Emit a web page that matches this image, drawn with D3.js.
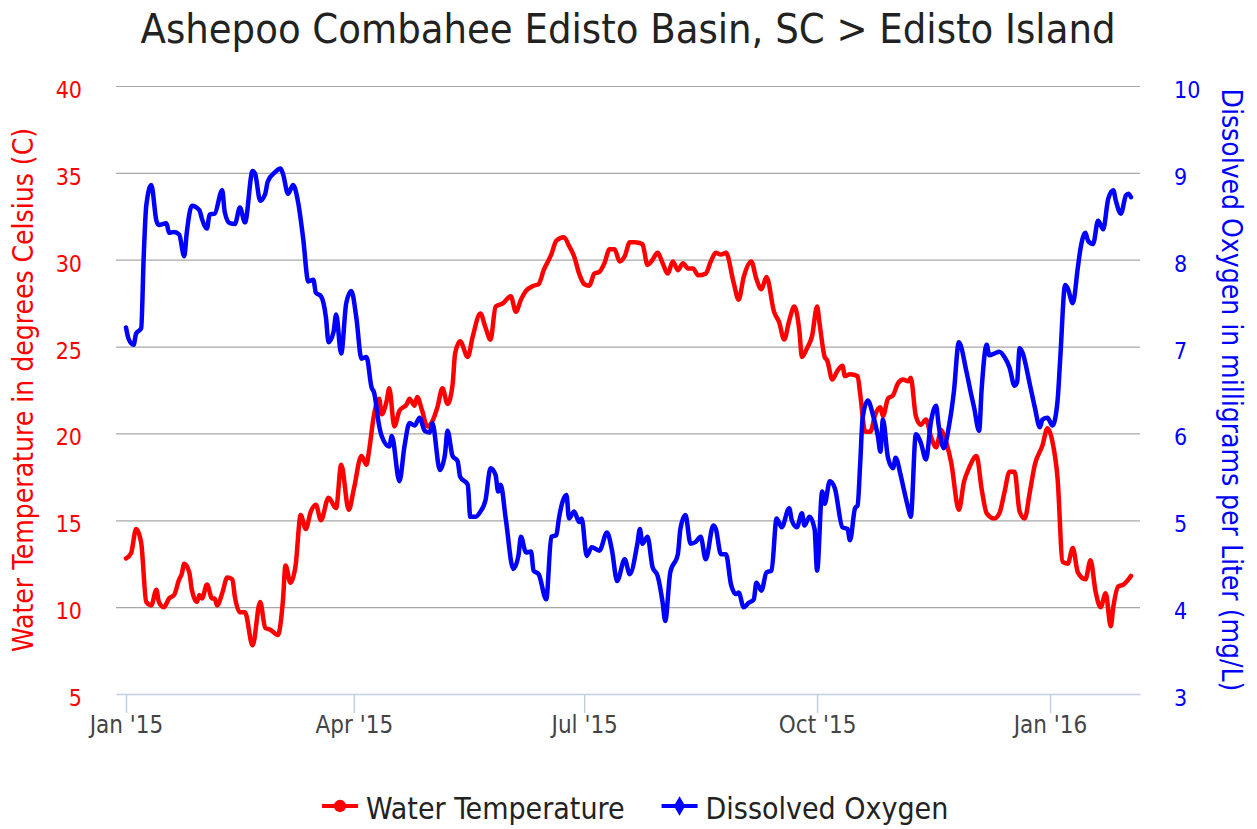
<!DOCTYPE html>
<html>
<head>
<meta charset="utf-8">
<script src="https://cdn.jsdelivr.net/npm/d3@7"></script>
<style>
  html, body { margin: 0; padding: 0; background: #fff; }
  svg { display: block; }
  text { font-family: "DejaVu Sans Condensed", "DejaVu Sans", sans-serif; font-stretch: semi-condensed; }
</style>
</head>
<body>
<svg id="chart" width="1257" height="829"></svg>
<script>
// series start: day 0 = 1 Jan 2015, values as [day, value]
const startDate = new Date(2015, 0, 1);

const waterTemp = [
  [0,12.8],[2,13.1],[4,14.5],[6,13.7],[8,10.3],[10,10.1],[12,11.0],[13,10.3],[15,10.0],[17,10.5],
  [19,10.7],[21,11.6],[22,11.9],[23,12.5],[25,12.0],[26,11.0],[28,10.3],[29,10.7],[30,10.5],[32,11.3],
  [34,10.5],[35,10.5],[36,10.1],[38,10.8],[40,11.7],[42,11.6],[43,10.6],[45,9.7],[47,9.7],[50,7.8],
  [53,10.3],[55,8.8],[57,8.7],[60,8.4],[62,10.4],[63,12.4],[65,11.4],[67,12.4],[69,15.3],[71,14.5],
  [73,15.5],[75,15.9],[77,15.0],[80,16.3],[83,15.7],[85,18.2],[88,15.6],[90,16.8],[93,18.7],[95,18.2],
  [96,19.0],[98,21.1],[100,22.0],[101,21.1],[103,21.9],[104,22.6],[106,20.4],[108,21.3],[111,21.7],[112,22.0],
  [114,21.6],[115,22.1],[117,21.3],[119,20.4],[121,20.7],[123,21.5],[125,22.6],[127,21.7],[129,22.8],[130,24.6],
  [132,25.3],[135,24.4],[137,25.6],[140,26.9],[142,26.1],[144,25.4],[146,27.3],[149,27.5],[152,27.9],[154,27.0],
  [156,27.7],[158,28.2],[161,28.5],[163,28.6],[165,29.4],[168,30.3],[170,31.1],[173,31.3],[175,30.8],[177,30.2],
  [179,29.2],[181,28.6],[183,28.5],[185,29.2],[187,29.3],[189,29.8],[191,30.6],[193,30.6],[195,29.9],[197,30.2],
  [199,31.0],[201,31.0],[204,30.9],[206,29.7],[208,30.0],[210,30.4],[212,29.8],[214,29.2],[216,29.9],[218,29.4],
  [220,29.8],[222,29.5],[224,29.5],[226,29.1],[229,29.2],[231,29.9],[233,30.4],[235,30.3],[237,30.4],[240,28.7],
  [242,27.7],[244,29.0],[247,29.9],[249,28.9],[251,28.3],[253,29.0],[256,27.0],[258,26.4],[260,25.4],[262,26.5],
  [264,27.3],[266,25.9],[267,24.4],[269,24.9],[271,25.6],[273,27.3],[274,26.3],[276,24.4],[277,24.2],[279,23.1],
  [281,23.6],[283,23.9],[284,23.3],[286,23.4],[289,23.3],[290,22.3],[292,20.1],[294,20.1],[296,21.1],[298,21.5],
  [299,21.0],[301,22.0],[303,22.2],[305,22.9],[307,23.1],[309,23.0],[310,23.2],[312,21.0],[314,20.5],[316,20.8],
  [318,19.8],[320,19.2],[322,20.2],[323,19.9],[326,18.3],[329,15.6],[331,17.2],[333,18.0],[336,18.7],[338,16.8],
  [340,15.4],[343,15.1],[345,15.4],[347,16.6],[349,17.8],[351,17.8],[353,15.5],[355,15.1],[357,16.6],[359,18.2],
  [362,19.3],[364,20.3],[366,19.5],[368,17.4],[370,12.6],[372,12.5],[374,13.4],[376,12.0],[379,11.6],[381,12.7],
  [383,10.9],[385,10.0],[387,10.8],[389,8.9],[390,10.0],[392,11.2],[394,11.3],[396,11.6],[397,11.8]
];

const dissolvedOxygen = [
  [0,7.22],[1,7.09],[3,7.02],[4,7.15],[6,7.21],[7,8.04],[8,8.62],[10,8.86],[12,8.45],[13,8.40],
  [16,8.42],[17,8.31],[19,8.32],[21,8.29],[23,8.04],[24,8.31],[26,8.62],[29,8.57],[30,8.47],[32,8.36],
  [33,8.52],[35,8.53],[38,8.80],[39,8.55],[41,8.42],[43,8.41],[45,8.60],[47,8.43],[50,9.02],[51,8.99],
  [53,8.68],[55,8.76],[56,8.90],[59,9.01],[61,9.05],[62,8.99],[64,8.76],[66,8.86],[68,8.66],[70,8.24],
  [72,7.75],[74,7.77],[75,7.62],[77,7.58],[79,7.33],[80,7.05],[82,7.17],[83,7.37],[85,6.92],[87,7.50],
  [89,7.64],[91,7.33],[93,6.86],[95,6.88],[97,6.53],[98,6.47],[100,6.09],[101,5.97],[104,5.85],[105,5.97],
  [108,5.45],[110,5.85],[112,6.12],[114,6.09],[116,6.18],[118,6.03],[120,6.01],[121,6.12],[124,5.58],[126,5.76],
  [127,6.03],[129,5.74],[131,5.68],[132,5.50],[135,5.41],[136,5.04],[138,5.04],[140,5.10],[142,5.23],[144,5.60],
  [146,5.52],[147,5.33],[148,5.41],[150,5.02],[153,4.44],[155,4.59],[156,4.81],[158,4.63],[160,4.64],[161,4.42],
  [163,4.38],[166,4.09],[168,4.81],[170,4.83],[171,5.02],[174,5.29],[175,5.02],[177,5.10],[179,4.98],[180,5.02],
  [182,4.59],[184,4.69],[187,4.65],[190,4.86],[192,4.65],[194,4.30],[197,4.55],[199,4.38],[202,4.73],[203,4.90],
  [204,4.73],[206,4.81],[208,4.46],[210,4.36],[212,4.05],[213,3.84],[215,4.40],[218,4.61],[219,4.90],[221,5.06],
  [223,4.73],[225,4.75],[227,4.81],[229,4.55],[232,4.94],[233,4.90],[235,4.61],[237,4.61],[239,4.26],[241,4.15],
  [242,4.17],[244,4.00],[246,4.05],[248,4.09],[249,4.28],[251,4.19],[253,4.40],[255,4.42],[257,5.02],[259,4.92],
  [262,5.14],[263,5.00],[265,4.92],[267,5.08],[268,4.94],[270,5.04],[272,4.90],[273,4.42],[275,5.33],[276,5.19],
  [278,5.45],[280,5.37],[283,4.92],[285,4.90],[286,4.77],[288,5.14],[289,5.17],[290,5.64],[291,6.18],[293,6.38],
  [295,6.22],[297,5.97],[298,5.79],[299,6.16],[301,5.72],[303,5.60],[304,5.72],[306,5.52],[307,5.39],[309,5.14],
  [310,5.04],[312,5.99],[314,5.89],[316,5.70],[318,6.14],[320,6.32],[321,6.10],[323,5.83],[325,6.07],[327,6.47],
  [329,7.05],[332,6.71],[334,6.43],[335,6.30],[337,6.03],[338,6.51],[340,7.02],[341,6.90],[343,6.92],[345,6.94],
  [347,6.88],[349,6.76],[351,6.55],[352,6.59],[353,6.98],[354,6.94],[357,6.57],[359,6.30],[361,6.07],[362,6.16],
  [364,6.18],[366,6.09],[368,6.38],[369,6.84],[371,7.71],[372,7.67],[374,7.50],[376,7.91],[377,8.12],[379,8.31],
  [380,8.22],[382,8.18],[384,8.45],[386,8.35],[388,8.70],[390,8.80],[391,8.68],[393,8.53],[395,8.74],[396,8.76],
  [397,8.72]
];

const xTickDates = [new Date(2015, 0, 1), new Date(2015, 3, 1), new Date(2015, 6, 1), new Date(2015, 9, 1), new Date(2016, 0, 1)];
const tempTicks = [5, 10, 15, 20, 25, 30, 35, 40];
const oxygenTicks = [3, 4, 5, 6, 7, 8, 9, 10];

const titleText = "Ashepoo Combahee Edisto Basin, SC > Edisto Island";
const tempTitle = "Water Temperature in degrees Celsius (C)";
const oxygenTitle = "Dissolved Oxygen in milligrams per Liter (mg/L)";

const RED = "#ff0000";
const BLUE = "#0000ff";

// plot box
const plot = { left: 116, right: 1140, top: 86, bottom: 694 };

const svg = d3.select("#chart");

// x: Jan 1 2015 sits a bit inside the plot box, so build the scale from the tick positions
const xBase = d3.scaleTime().domain([xTickDates[0], xTickDates[4]]).range([126, 1050]);
const x = d3.scaleTime()
  .domain([xBase.invert(plot.left), xBase.invert(plot.right)])
  .range([plot.left, plot.right]);

const yTemp = d3.scaleLinear().domain([5, 40]).range([plot.bottom, plot.top]);
const yOxy = d3.scaleLinear().domain([3, 10]).range([plot.bottom, plot.top]);

const toDate = (d) => d3.timeDay.offset(startDate, d[0]);

// 网格线
const grid = svg.append("g")
  .attr("transform", `translate(${plot.left},0)`)
  .call(d3.axisLeft(yTemp).tickValues(tempTicks.slice(1)).tickSize(-(plot.right - plot.left)).tickFormat(""));
grid.select(".domain").remove();
grid.selectAll("line").attr("stroke", "#a8a8a8").attr("stroke-width", 1.2);

// x axis
const xAxis = svg.append("g")
  .attr("transform", `translate(0,${plot.bottom})`)
  .call(d3.axisBottom(x).tickValues(xTickDates).tickFormat(d3.timeFormat("%b '%y")).tickSize(19).tickSizeOuter(0).tickPadding(3));
xAxis.select(".domain").attr("stroke", "#c0d0e0").attr("stroke-width", 1.5);
xAxis.selectAll("line").attr("stroke", "#c0d0e0").attr("stroke-width", 1.5);
xAxis.selectAll("text").attr("fill", "#444").style("font-size", "24px");

// left axis (temperature)
const yLeft = svg.append("g")
  .attr("transform", `translate(${plot.left},0)`)
  .call(d3.axisLeft(yTemp).tickValues(tempTicks).tickSize(0).tickPadding(34));
yLeft.select(".domain").remove();
yLeft.selectAll("text").attr("fill", RED).attr("dy", "0.5em").style("font-size", "23px");

// right axis (oxygen)
const yRight = svg.append("g")
  .attr("transform", `translate(${plot.right},0)`)
  .call(d3.axisRight(yOxy).tickValues(oxygenTicks).tickFormat(d3.format("d")).tickSize(0).tickPadding(34));
yRight.select(".domain").remove();
yRight.selectAll("text").attr("fill", BLUE).attr("dy", "0.5em").style("font-size", "23px");

// series
const tempLine = d3.line()
  .x((d) => x(toDate(d)))
  .y((d) => yTemp(d[1]))
  .curve(d3.curveMonotoneX);

const oxyLine = d3.line()
  .x((d) => x(toDate(d)))
  .y((d) => yOxy(d[1]))
  .curve(d3.curveMonotoneX);

svg.append("path")
  .datum(waterTemp)
  .attr("d", tempLine)
  .attr("fill", "none")
  .attr("stroke", RED)
  .attr("stroke-width", 4.5)
  .attr("stroke-linejoin", "round")
  .attr("stroke-linecap", "round");

svg.append("path")
  .datum(dissolvedOxygen)
  .attr("d", oxyLine)
  .attr("fill", "none")
  .attr("stroke", BLUE)
  .attr("stroke-width", 4.5)
  .attr("stroke-linejoin", "round")
  .attr("stroke-linecap", "round");

// titles
svg.append("text")
  .attr("x", (plot.left + plot.right) / 2)
  .attr("y", 43)
  .attr("text-anchor", "middle")
  .attr("fill", "#222")
  .attr("textLength", 975)
  .attr("lengthAdjust", "spacingAndGlyphs")
  .style("font-size", "40px")
  .text(titleText);

svg.append("text")
  .attr("transform", `translate(33,${(plot.top + plot.bottom) / 2}) rotate(-90)`)
  .attr("text-anchor", "middle")
  .attr("fill", RED)
  .style("font-size", "28px")
  .text(tempTitle);

svg.append("text")
  .attr("transform", `translate(1222,${(plot.top + plot.bottom) / 2}) rotate(90)`)
  .attr("text-anchor", "middle")
  .attr("fill", BLUE)
  .style("font-size", "28px")
  .text(oxygenTitle);

// legend
const legendItems = [
  { name: "Water Temperature", color: RED, symbol: d3.symbolCircle, size: 120 },
  { name: "Dissolved Oxygen", color: BLUE, symbol: d3.symbolDiamond, size: 110 }
];

const legend = svg.append("g").attr("transform", "translate(0,806)");
let lx = 322;
legendItems.forEach((item) => {
  const g = legend.append("g").attr("transform", `translate(${lx},0)`);
  g.append("line").attr("x1", 0).attr("x2", 36).attr("stroke", item.color).attr("stroke-width", 4);
  g.append("path")
    .attr("transform", "translate(18,0)")
    .attr("d", d3.symbol().type(item.symbol).size(item.size))
    .attr("fill", item.color);
  const t = g.append("text")
    .attr("x", 44)
    .attr("y", 13)
    .attr("fill", "#222")
    .style("font-size", "30px")
    .text(item.name);
  lx += 44 + t.node().getComputedTextLength() + 37;
});
</script>
</body>
</html>
